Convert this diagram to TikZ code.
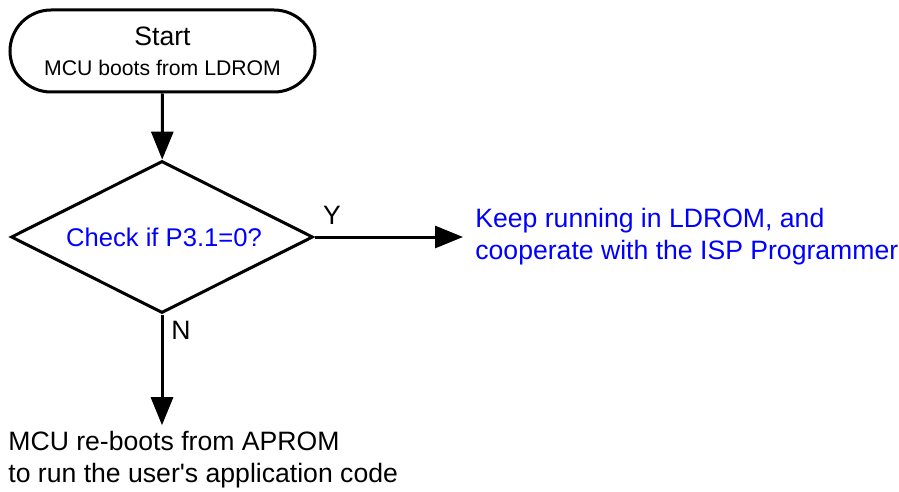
\documentclass[tikz,border=0pt]{standalone}
\usepackage{fontspec}
\setmainfont{Liberation Sans}
\usepackage{tikz}
\usetikzlibrary{shapes.geometric}
\usetikzlibrary{positioning}
\usetikzlibrary{arrows.meta}
\tikzset{edge/.style = {-{Triangle[length=14pt,width=11pt]}, line width=1.5pt}}
\tikzset{txt/.style = {font=\fontsize{13.3}{16}\selectfont}}

\begin{document}
\begin{tikzpicture}[x=0.5pt,y=-0.5pt]
		\useasboundingbox (0,0) rectangle (899,492);
		%start box
		\node[draw, line width=1.5pt, rounded corners=20.5pt, minimum width=152.5pt, minimum height=41pt, align=center, txt](start) at (162.5,51){Start\\[-1pt]{\fontsize{10.6}{12.7}\selectfont MCU boots from LDROM}};

		%decision
		\node[draw, diamond, aspect=2, inner sep=1pt, line width=1.5pt, minimum width=151pt, minimum height=76pt, text=blue, font=\fontsize{12.8}{16}\selectfont](check) at (162,237){\hspace*{2pt}Check if P3.1=0?};
		\draw[edge] (start) -- (check);

		%Y branch
		\node[anchor=west, inner sep=6pt, align=left, text=blue, txt](ldrom) at (463,237){Keep running in LDROM, and\\cooperate with the ISP Programmer};
		\draw[edge] (check.east) -- (ldrom.west |- check.east);
		\node[txt](yes) at (332,215){Y};

		%N branch
		\node[anchor=west, inner sep=3pt, align=left, txt](aprom) at (2,460){MCU re-boots from APROM\\to run the user\textquotesingle s application code};
		\draw[edge] (check.south) -- (check.south |- aprom.north);
		\node[txt](no) at (181,330){N};
\end{tikzpicture}
\end{document}
